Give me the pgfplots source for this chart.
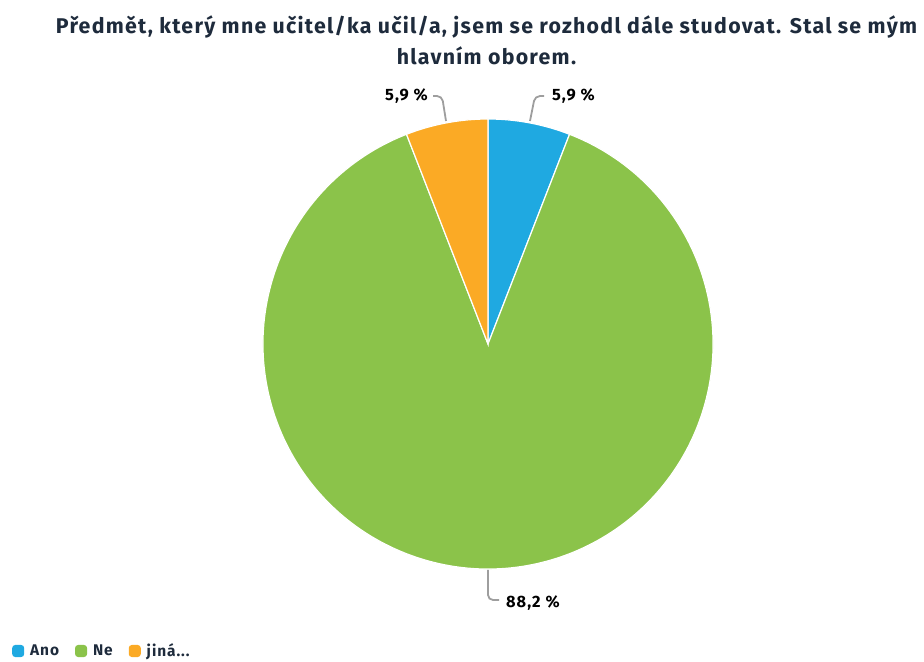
\documentclass[border=0pt]{standalone}
\usepackage{pgfplots}
\usepackage{pgfplotstable}
\pgfplotsset{compat=1.18}
\usepackage{fontspec}
\setmainfont{Fira Sans}
\newfontfamily\spaced[LetterSpace=6]{Fira Sans}
\definecolor{cano}{HTML}{1FA9E1}
\definecolor{cne}{HTML}{8BC34A}
\definecolor{cjina}{HTML}{FBAA25}
\definecolor{ctitle}{HTML}{1E2B3C}
\definecolor{clead}{HTML}{9E9E9E}
\pgfplotstableread{
label value
Ano 5.9
Ne 88.2
jina 5.9
}\piedata
\pgfplotstablegetelem{0}{value}\of\piedata \let\va\pgfplotsretval
\pgfplotstablegetelem{1}{value}\of\piedata \let\vb\pgfplotsretval
\pgfplotstablegetelem{2}{value}\of\piedata \let\vc\pgfplotsretval
\pgfmathsetmacro{\tot}{\va+\vb+\vc}
\pgfmathsetmacro{\aA}{90}
\pgfmathsetmacro{\aB}{90-3.6*(\va/\tot)*100}
\pgfmathsetmacro{\aC}{\aB-3.6*(\vb/\tot)*100}
\pgfmathsetmacro{\aD}{\aC-3.6*(\vc/\tot)*100}
\begin{document}
\begin{tikzpicture}
\begin{axis}[hide axis, scale only axis, width=924bp, height=662bp,
  xmin=0, xmax=924, ymin=0, ymax=662, clip=false,
  legend style={at={(axis cs:12,11)}, anchor=west, draw=none, fill=none, inner sep=0pt,
    font=\spaced\fontsize{15.5}{17}\selectfont\bfseries\color{ctitle}, legend columns=3,
    /tikz/every even column/.append style={column sep=14bp}},
  legend cell align=left]
\addlegendimage{legend image code/.code={\fill[cano, draw=none, rounded corners=3bp] (0bp,-6bp) rectangle (12bp,6bp); \path[draw=none, fill=none] (0,0) -- (16bp,0);}}
\addlegendentry{Ano}
\addlegendimage{legend image code/.code={\fill[cne, draw=none, rounded corners=3bp] (0bp,-6bp) rectangle (12bp,6bp); \path[draw=none, fill=none] (0,0) -- (16bp,0);}}
\addlegendentry{Ne}
\addlegendimage{legend image code/.code={\fill[cjina, draw=none, rounded corners=3bp] (0bp,-6bp) rectangle (12bp,6bp); \path[draw=none, fill=none] (0,0) -- (16bp,0);}}
\addlegendentry{jiná...}
% slices
\filldraw[fill=cano, draw=white, line width=1.2bp] (axis cs:488,318) -- ++(\aA:225bp) arc[start angle=\aA, end angle=\aB, radius=225bp] -- cycle;
\filldraw[fill=cne, draw=white, line width=1.2bp] (axis cs:488,318) -- ++(\aB:225bp) arc[start angle=\aB, end angle=\aC, radius=225bp] -- cycle;
\filldraw[fill=cjina, draw=white, line width=1.2bp] (axis cs:488,318) -- ++(\aC:225bp) arc[start angle=\aC, end angle=\aD, radius=225bp] -- cycle;
% leader lines
\draw[clead, line width=1.8bp, rounded corners=5bp] (axis cs:530,541) -- (axis cs:535,566) -- (axis cs:544,566);
\draw[clead, line width=1.8bp, rounded corners=5bp] (axis cs:446,541) -- (axis cs:442,566) -- (axis cs:433,566);
\draw[clead, line width=1.8bp, rounded corners=5bp] (axis cs:488,92) -- (axis cs:488,62) -- (axis cs:499,62);
% labels
\node[anchor=west, font=\spaced\fontsize{16.5}{18}\selectfont\bfseries, inner sep=0pt] at (axis cs:552,566) {5,9 \%};
\node[anchor=east, font=\spaced\fontsize{16.5}{18}\selectfont\bfseries, inner sep=0pt] at (axis cs:428,566) {5,9 \%};
\node[anchor=west, font=\spaced\fontsize{16.5}{18}\selectfont\bfseries, inner sep=0pt] at (axis cs:506,59) {88,2 \%};
% title
\node[font=\spaced\fontsize{21.4}{31}\selectfont\bfseries, text=ctitle, align=center] at (axis cs:486.5,622) {Předmět, který mne učitel/ka učil/a, jsem se rozhodl dále studovat. Stal se mým\\hlavním oborem.};
\end{axis}
\pgfresetboundingbox
\path (0,0) rectangle (924bp,662bp);
\end{tikzpicture}
\end{document}
